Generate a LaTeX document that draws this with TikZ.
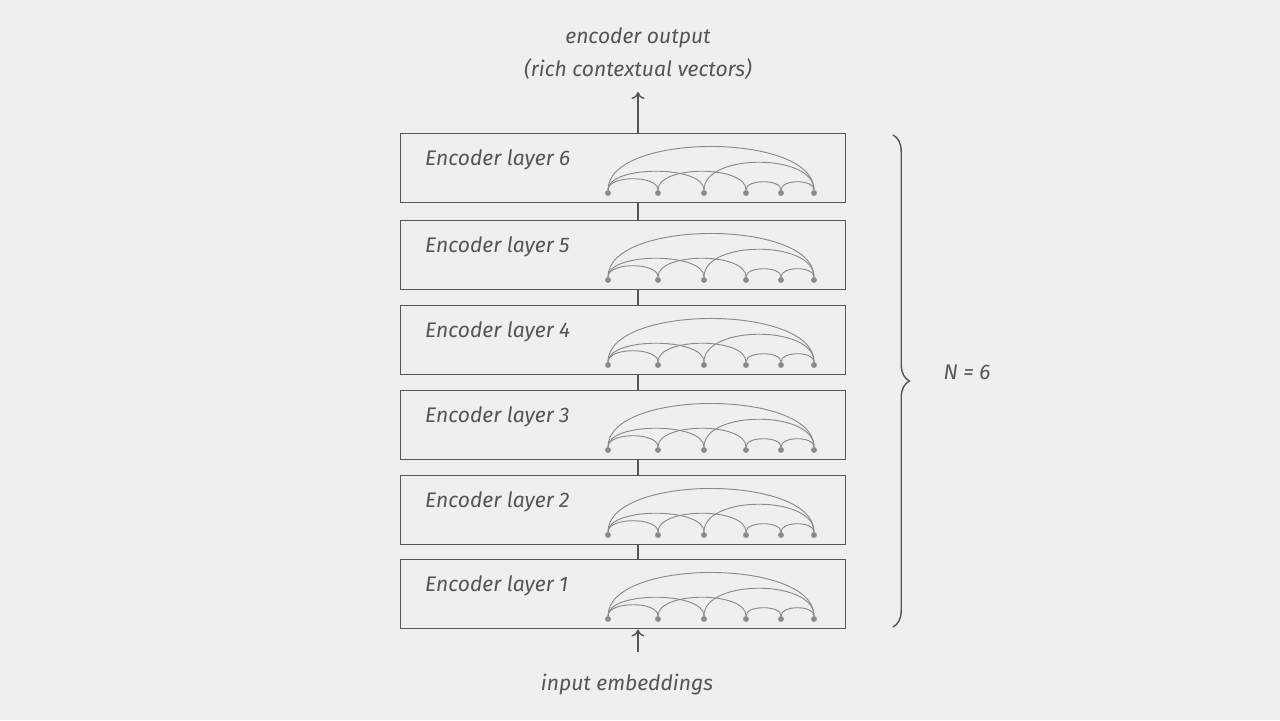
\documentclass[tikz,border=0pt]{standalone}
\usepackage{fontspec}
\setmainfont{Fira Sans}
\usetikzlibrary{positioning}
\usetikzlibrary{calc}
\usetikzlibrary{arrows.meta,decorations.pathreplacing}
\definecolor{bg}{HTML}{EFEFEF}
\definecolor{ink}{HTML}{555555}
\definecolor{arcc}{HTML}{8A8A8A}

\begin{document}
\begin{tikzpicture}[x=0.03cm,y=-0.03cm,
  layer/.style={draw=ink,line width=1.2pt,fill=bg,minimum width=13.35cm,minimum height=2.07cm,inner sep=0pt},
  lbl/.style={font=\fontsize{18}{28}\selectfont\itshape,text=ink},
  tok/.style={circle,fill=arcc,inner sep=0pt,minimum size=5pt},
  flow/.style={ink,line width=1.2pt,-{To[length=6pt,width=11pt]}}]
\fill[bg] (0,0) rectangle (1280,720);
\useasboundingbox (0,0) rectangle (1280,720);

% layer boxes, top y of each
\foreach \i/\t in {6/133,5/220,4/305,3/390,2/475,1/559} {
  \node[layer,anchor=north west] (L\i) at (400,\t) {};
  \node[lbl,anchor=west] at ($(L\i.north west)+(21,27)$) {Encoder layer \i};
  \foreach \k/\x in {1/208,2/258,3/304,4/346,5/381,6/414}
    \node[tok] (t\i\k) at ($(L\i.north west)+(\x,60)$) {};
  \foreach \a/\b/\h in {1/2/18,1/3/28,2/4/28,3/6/40,4/5/14,5/6/14,1/6/61}
    \draw[arcc,line width=0.8pt] (t\i\a) .. controls +(0,-\h) and +(0,-\h) .. (t\i\b);
}
\coordinate (mid) at (638,0);
\foreach \i/\j in {1/2,2/3,3/4,4/5,5/6}
  \draw[ink,line width=1.2pt] (L\i.north -| mid) -- (L\j.south -| mid);

\coordinate (inp) at (638,652);
\coordinate (outp) at (638,92);
\draw[flow] (inp) -- (L1.south -| inp);
\draw[flow] (L6.north -| outp) -- (outp);
\node[lbl] (in) at (627,685) {input embeddings};
\node[lbl,align=center] (out) at (638,54) {encoder output\\(rich contextual vectors)};

\draw[ink,line width=1.2pt,decorate,decoration={brace,amplitude=14pt}] (893,135) -- (893,627);
\node[lbl] (N) at (967,372) {N = 6};
\end{tikzpicture}
\end{document}
